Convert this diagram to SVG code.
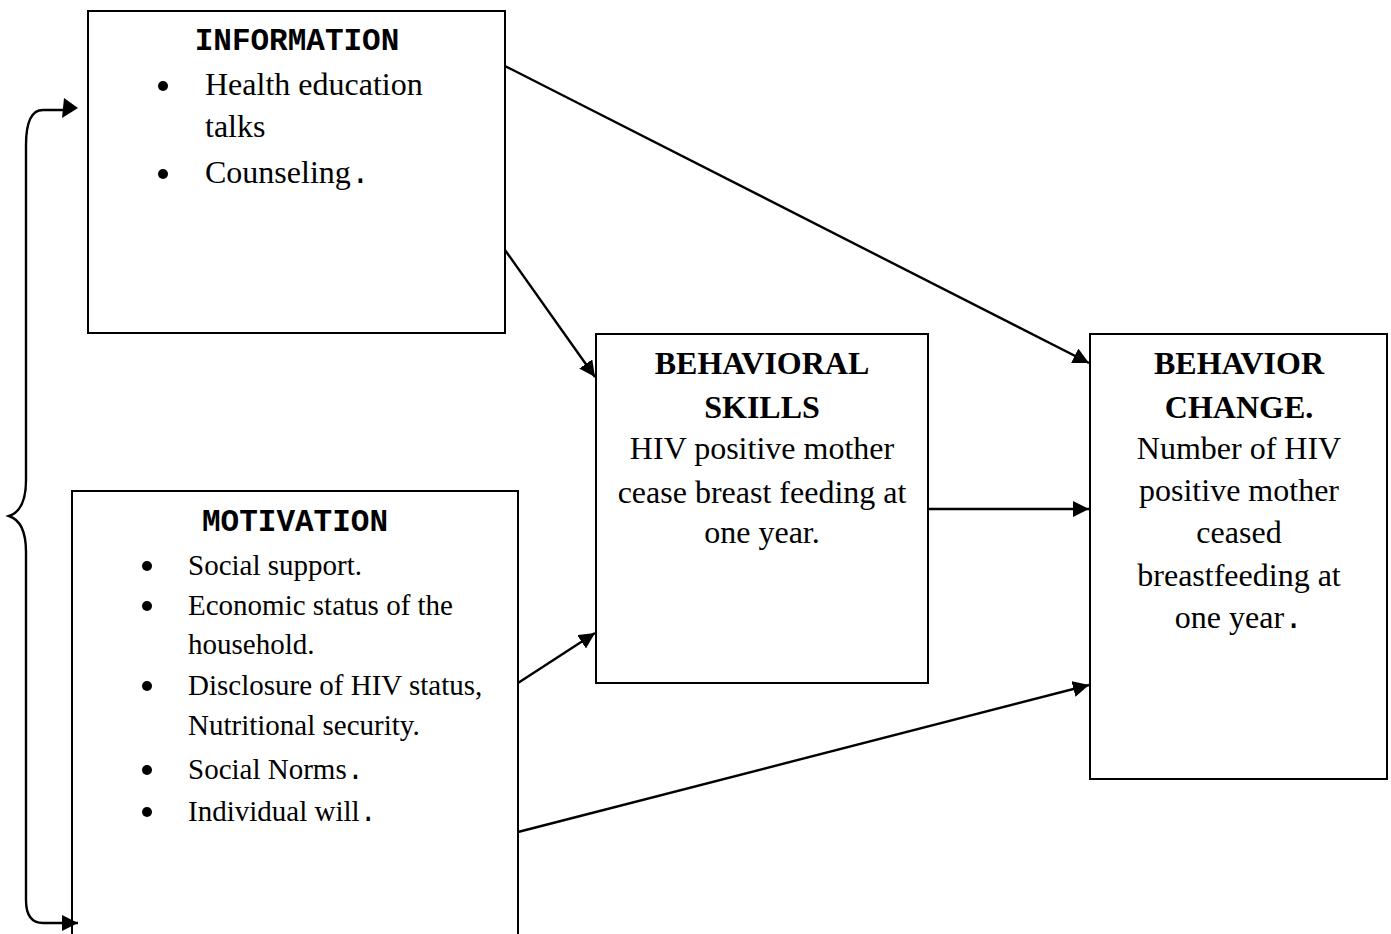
<svg xmlns="http://www.w3.org/2000/svg" width="1391" height="934" viewBox="0 0 1391 934">
<style>
.box{fill:#fff;stroke:#000;stroke-width:2}
.con{fill:none;stroke:#000;stroke-width:2.4}
.hm{font-family:"Liberation Mono","Courier New",monospace;font-weight:bold;font-size:31px;text-anchor:middle}
.t{font-family:"Liberation Serif","Times New Roman",serif;font-size:32px}
.tm{font-family:"Liberation Serif","Times New Roman",serif;font-size:29px}
.c{text-anchor:middle}
.b{font-weight:bold}
.mono{font-family:"Liberation Mono","Courier New",monospace}
</style>
<defs>
<marker id="arr" markerUnits="userSpaceOnUse" markerWidth="17" markerHeight="17" refX="16" refY="8" orient="auto">
<path d="M0,0 L16,8 L0,16 Z" fill="#000"/>
</marker>
</defs>
<rect width="1391" height="934" fill="#fff"/>
<g id="information">
<rect class="box" x="88" y="11" width="417" height="322"/>
<text class="hm" x="297" y="50">INFORMATION</text>
<circle cx="163" cy="86" r="5"/>
<text class="t" x="205" y="95">Health education</text>
<text class="t" x="205" y="137">talks</text>
<circle cx="163" cy="174" r="5"/>
<text class="t" x="205" y="183">Counseling<tspan class="mono">.</tspan></text>
</g>
<g id="motivation">
<rect class="box" x="72" y="491" width="446" height="460"/>
<text class="hm" x="295" y="531">MOTIVATION</text>
<circle cx="147" cy="566" r="5"/>
<text class="tm" x="188" y="575">Social support.</text>
<circle cx="147" cy="606" r="5"/>
<text class="tm" x="188" y="615">Economic status of the</text>
<text class="tm" x="188" y="654">household.</text>
<circle cx="147" cy="686" r="5"/>
<text class="tm" x="188" y="695">Disclosure of HIV status,</text>
<text class="tm" x="188" y="735">Nutritional security.</text>
<circle cx="147" cy="770" r="5"/>
<text class="tm" x="188" y="779">Social Norms<tspan class="mono">.</tspan></text>
<circle cx="147" cy="812" r="5"/>
<text class="tm" x="188" y="821">Individual will<tspan class="mono">.</tspan></text>
</g>
<g id="behavioral-skills">
<rect class="box" x="596" y="334" width="332" height="349"/>
<text class="t c b" x="762" y="374">BEHAVIORAL</text>
<text class="t c b" x="762" y="418">SKILLS</text>
<text class="t c" x="762" y="459">HIV positive mother</text>
<text class="t c" x="762" y="503">cease breast feeding at</text>
<text class="t c" x="762" y="543">one year.</text>
</g>
<g id="behavior-change">
<rect class="box" x="1090" y="334" width="297" height="445"/>
<text class="t c b" x="1239" y="374">BEHAVIOR</text>
<text class="t c b" x="1239" y="418">CHANGE.</text>
<text class="t c" x="1239" y="459">Number of HIV</text>
<text class="t c" x="1239" y="501">positive mother</text>
<text class="t c" x="1239" y="543">ceased</text>
<text class="t c" x="1239" y="586">breastfeeding at</text>
<text class="t c" x="1239" y="628">one year<tspan class="mono">.</tspan></text>
</g>
<g id="connectors">
<path class="con" d="M505,66 L1089,363" marker-end="url(#arr)"/>
<path class="con" d="M505,250 L595,377" marker-end="url(#arr)"/>
<path class="con" d="M928,509 L1089,509" marker-end="url(#arr)"/>
<path class="con" d="M518,683 L595,633" marker-end="url(#arr)"/>
<path class="con" d="M518,832 L1089,685" marker-end="url(#arr)"/>
<path class="con" d="M66,110 L43,110 Q26,110 26,145 L26,480 C26,505 18,513 9,516 C18,519 26,527 26,552 L26,900 Q26,923 43,923 L78,923" marker-end="url(#arr)"/>
<path d="M78,108 L64,98 L62,118 Z" fill="#000"/>
</g>
</svg>
